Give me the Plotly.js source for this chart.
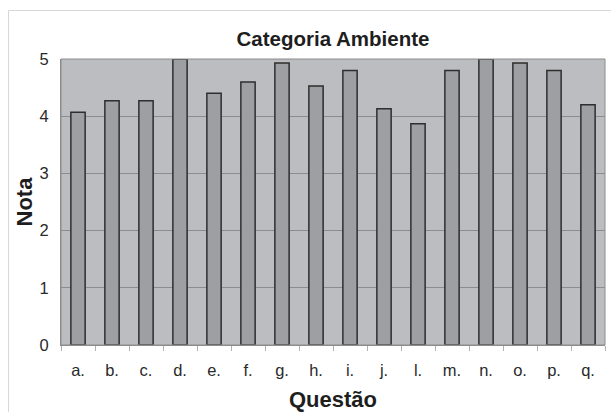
<!DOCTYPE html>
<html>
<head>
<meta charset="utf-8">
<script src="https://cdn.plot.ly/plotly-3.0.1.min.js"></script>
<style>
  html, body { margin: 0; padding: 0; background: #ffffff; }
  #chart { width: 611px; height: 412px; }
</style>
</head>
<body>
<div id="chart"></div>
<script>
// Average score per question, "Ambiente" category
const questoes = ["a.", "b.", "c.", "d.", "e.", "f.", "g.", "h.", "i.", "j.", "l.", "m.", "n.", "o.", "p.", "q."];
const notas = [4.07, 4.27, 4.27, 5.0, 4.4, 4.6, 4.93, 4.53, 4.8, 4.13, 3.87, 4.8, 5.0, 4.93, 4.8, 4.2];
const yTicks = [0, 1, 2, 3, 4, 5];

const font = "Liberation Sans, Arial, sans-serif";

const trace = {
  type: "bar",
  x: questoes,
  y: notas,
  marker: {
    color: "#9e9fa3",
    line: { color: "#2e2e2e", width: 1.5 }
  },
  hoverinfo: "x+y"
};

const layout = {
  width: 611,
  height: 412,
  margin: { l: 61, r: 6, t: 59, b: 67 },
  paper_bgcolor: "#ffffff",
  plot_bgcolor: "#bcbdc1",
  bargap: 0.58,
  showlegend: false,
  font: { family: font, color: "#1e1e1e" },
  title: {
    text: "<b>Categoria Ambiente</b>",
    font: { family: font, size: 20.5, color: "#1e1e1e" },
    x: 0.5, xref: "paper",
    y: 1 - 39 / 412, yref: "container", yanchor: "middle"
  },
  xaxis: {
    type: "category",
    tickfont: { family: font, size: 16.5, color: "#2a2a2a" },
    ticks: "outside",
    tickson: "boundaries",
    ticklen: 5,
    tickcolor: "#b0b0b0",
    showline: true,
    linecolor: "#8c8c8c",
    linewidth: 1,
    showgrid: false,
    mirror: false,
    ticklabelstandoff: 10,
    title: {
      text: "<b>Questão</b>",
      font: { family: font, size: 22, color: "#1e1e1e" },
      standoff: 14
    }
  },
  yaxis: {
    range: [0, 5],
    tickvals: yTicks,
    tickfont: { family: font, size: 16.5, color: "#2a2a2a" },
    showgrid: true,
    gridcolor: "#8d8d90",
    gridwidth: 1,
    zeroline: false,
    showline: true,
    linecolor: "#8c8c8c",
    linewidth: 1,
    ticks: "",
    ticklabelstandoff: 8,
    title: {
      text: "<b>Nota</b>",
      font: { family: font, size: 22, color: "#1e1e1e" },
      standoff: 0
    },
    automargin: false
  },
  annotations: [],
  shapes: [
    // frame around the plot area
    {
      type: "rect", xref: "paper", yref: "paper",
      x0: 0, x1: 1, y0: 0, y1: 1,
      line: { color: "#8c8c8c", width: 1 }
    },
    // light outer border of the chart
    {
      type: "rect", xref: "paper", yref: "paper",
      x0: (8.5 - 61) / 544, x1: (640 - 61) / 544,
      y0: (345 - 430) / 286, y1: (345 - 10.5) / 286,
      line: { color: "#d8d8d8", width: 1 }
    }
  ]
};

Plotly.newPlot("chart", [trace], layout, { displayModeBar: false, staticPlot: true });
</script>
</body>
</html>
